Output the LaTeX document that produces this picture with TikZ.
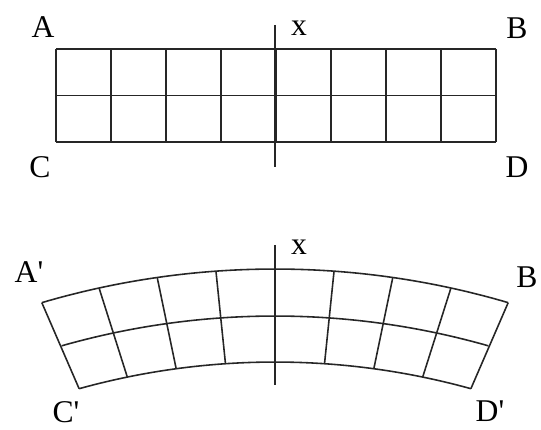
\documentclass[tikz,border=0pt]{standalone}
\usepackage{fontspec}
\setmainfont{Liberation Serif}
\usetikzlibrary{calc}
\begin{document}
\begin{tikzpicture}[scale=1]
        % Estilos de la rejilla y etiquetas
        \tikzset{rejilla/.style={draw=black!85, line width=0.9pt},
                 eje/.style={draw=black!85, line width=1.3pt},
                 etiqueta/.style={font=\fontsize{18}{20}\selectfont, inner sep=0pt}}
        \useasboundingbox (0,0) rectangle (10.82,8.6);

        % --- PLACA RECTA ---
        \foreach \i in {0,...,8}
            \draw[rejilla] (1.12+1.1*\i,5.76) -- (1.12+1.1*\i,7.62);
        \foreach \y in {5.76,6.69,7.62}
            \draw[rejilla] (1.12,\y) -- (9.92,\y);
        \draw[eje] (5.5,8.1) -- (5.5,5.26);
        \node[etiqueta] (A) at (0.86,8.06) {A};
        \node[etiqueta] (xs) at (5.98,8.04) {x};
        \node[etiqueta] (B) at (10.34,8.04) {B};
        \node[etiqueta] (C) at (0.8,5.26) {C};
        \node[etiqueta] (D) at (10.34,5.26) {D};

        % --- PLACA CURVADA ---
        \coordinate (O) at (5.5,-13.3);
        \foreach \r/\a in {16.52/16.4, 15.58/15.9, 14.66/15.5}
            \draw[rejilla] ($(O)+(90+\a:\r)$) arc[start angle=90+\a, end angle=90-\a, radius=\r];
        \foreach \k in {-4,...,4}
            \draw[rejilla] ($(O)+(90+\k*4.1:16.52)$) -- ($(O)+(90+\k*3.875:14.66)$);
        \draw[eje] (5.5,3.7) -- (5.5,0.9);
        \node[etiqueta] (A') at (0.58,3.16) {A\textquotesingle};
        \node[etiqueta] (xi) at (5.98,3.66) {x};
        \node[etiqueta] (B') at (10.54,3.06) {B};
        \node[etiqueta] (C') at (1.32,0.36) {C\textquotesingle};
        \node[etiqueta] (D') at (9.8,0.37) {D\textquotesingle};
    \end{tikzpicture}
\end{document}
